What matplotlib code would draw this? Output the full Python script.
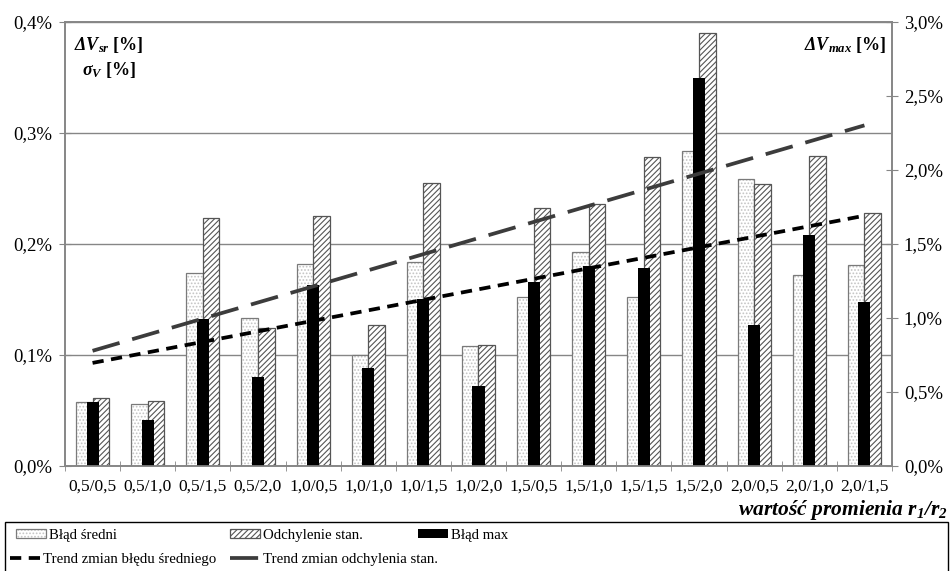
import numpy as np
import matplotlib
matplotlib.use('Agg')
import matplotlib.pyplot as plt
from matplotlib.ticker import FuncFormatter, MultipleLocator, FixedLocator
from matplotlib.patches import Rectangle

plt.rcParams['font.family'] = ['Liberation Serif', 'DejaVu Serif']
plt.rcParams['font.size'] = 12
plt.rcParams['mathtext.fontset'] = 'custom'
plt.rcParams['mathtext.rm'] = 'Liberation Serif'
plt.rcParams['mathtext.it'] = 'Liberation Serif:italic'
plt.rcParams['mathtext.bf'] = 'Liberation Serif:bold'
plt.rcParams['mathtext.bfit'] = 'Liberation Serif:bold:italic'
plt.rcParams['hatch.linewidth'] = 0.8

# dane (w %)
categories = ['0,5/0,5', '0,5/1,0', '0,5/1,5', '0,5/2,0', '1,0/0,5', '1,0/1,0',
              '1,0/1,5', '1,0/2,0', '1,5/0,5', '1,5/1,0', '1,5/1,5', '1,5/2,0',
              '2,0/0,5', '2,0/1,0', '2,0/1,5']
blad_sredni = [0.0577, 0.056, 0.174, 0.133, 0.182, 0.100, 0.184, 0.108,
               0.152, 0.193, 0.152, 0.284, 0.259, 0.172, 0.181]
odchylenie = [0.061, 0.059, 0.223, 0.124, 0.225, 0.127, 0.255, 0.109,
              0.232, 0.236, 0.278, 0.390, 0.254, 0.279, 0.228]
blad_max = [0.43, 0.31, 0.99, 0.60, 1.22, 0.66, 1.13, 0.54,
            1.24, 1.35, 1.34, 2.62, 0.95, 1.56, 1.11]

gray = '#868686'
x = np.arange(len(categories))

fig = plt.figure(figsize=(9.53, 5.71), dpi=100)
ax = fig.add_axes([65 / 953, 1 - 466 / 571, 827 / 953, 444 / 571])
ax2 = ax.twinx()

ax.set_axisbelow(True)
ax.yaxis.grid(True, color=gray, lw=1)

# słupki osi głównej
b1 = ax.bar(x - 0.15, blad_sredni, width=0.30, facecolor='white',
            edgecolor='#c4c4c4', hatch='.....', lw=0)
b1e = ax.bar(x - 0.15, blad_sredni, width=0.30, fill=False,
             edgecolor='#7a7a7a', lw=0.9)
b2 = ax.bar(x + 0.15, odchylenie, width=0.30, facecolor='white',
            edgecolor='#555555', hatch='//////', lw=0.9)

# słupki osi pomocniczej
b3 = ax2.bar(x, blad_max, width=0.22, color='black', lw=0)

# linie trendu (na osi głównej, rysowane nad słupkami)
p1 = np.polyfit(x, blad_sredni, 1)
p2 = np.polyfit(x, odchylenie, 1)
l1, = ax2.plot(x, np.polyval(p1, x), transform=ax.transData, color='black',
               lw=2.7, dashes=(3.0, 2.0))
l2, = ax2.plot(x, np.polyval(p2, x), transform=ax.transData, color='#3c3c3c',
               lw=2.7, dashes=(7.5, 3.5))

ax.set_xlim(-0.5, len(categories) - 0.5)
ax.set_ylim(0, 0.4)
ax2.set_ylim(0, 3.0)

fmt = FuncFormatter(lambda v, p: f'{v:.1f}%'.replace('.', ','))
ax.yaxis.set_major_locator(MultipleLocator(0.1))
ax.yaxis.set_major_formatter(fmt)
ax2.yaxis.set_major_locator(MultipleLocator(0.5))
ax2.yaxis.set_major_formatter(fmt)

ax.set_xticks(x)
ax.set_xticklabels(categories, fontsize=12.5)
ax.xaxis.set_minor_locator(FixedLocator(np.arange(-0.5, len(categories), 1.0)))
ax.tick_params(axis='x', which='major', length=0, pad=9)
ax.tick_params(axis='x', which='minor', length=7, direction='inout', color=gray)
ax.tick_params(axis='y', length=9, direction='inout', color=gray, pad=5,
               labelsize=13.5)
ax2.tick_params(axis='y', length=9, direction='inout', color=gray, pad=4,
                labelsize=13.5)

for a in (ax, ax2):
    for s in a.spines.values():
        s.set_color(gray)
        s.set_linewidth(1.2)

# opisy osi
ax.text(0.053, 0.948, r'$\mathbfit{\Delta V}_{\mathbfit{sr}}$ [%]', transform=ax.transAxes,
        ha='center', va='center', fontweight='bold', fontsize=13)
ax.text(0.053, 0.893, r'$\mathbfit{\sigma}_{\mathbfit{V}}$ [%]', transform=ax.transAxes,
        ha='center', va='center', fontweight='bold', fontsize=13)
ax.text(0.993, 0.948, r'$\mathbfit{\Delta V}_{\mathbfit{max}}$ [%]', transform=ax.transAxes,
        ha='right', va='center', fontweight='bold', fontsize=13)

fig.text(948 / 953, 1 - 510 / 571,
         r'wartość promienia $\mathbfit{r}_{\mathbfit{1}}$/$\mathbfit{r}_{\mathbfit{2}}$',
         ha='right', va='center', fontweight='bold', fontstyle='italic', fontsize=15.5)

# legenda - każdy wpis osobno, jak w Excelu
entries = [
    ((b1, b1e), 'Błąd średni', 16, 535),
    (b2, 'Odchylenie stan.', 230, 535),
    (b3, 'Błąd max', 418, 535),
    (l1, 'Trend zmian błędu średniego', 10, 559),
    (l2, 'Trend zmian odchylenia stan.', 230, 559),
]
for h, lab, px, py in entries:
    leg = fig.legend([h], [lab], loc='center left',
                     bbox_to_anchor=(px / 953, 1 - py / 571), frameon=False,
                     handlelength=2.0, handleheight=0.6, handletextpad=0.25,
                     borderaxespad=0, borderpad=0, fontsize=10.7)
fig.patches.append(Rectangle((5 / 953, -0.05), 943 / 953, 0.05 + 49 / 571,
                             transform=fig.transFigure, fill=False,
                             edgecolor='black', lw=1))

fig.savefig('out.png', dpi=100)
